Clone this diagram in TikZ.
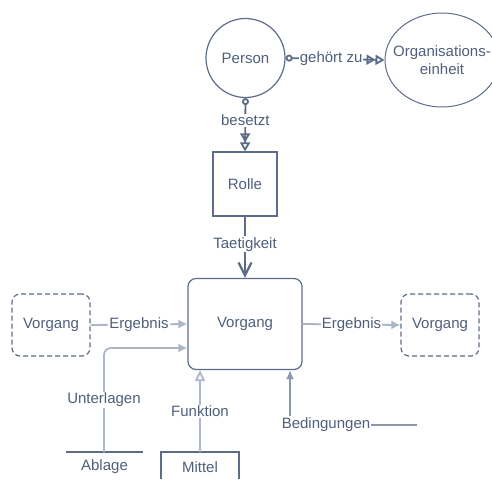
\documentclass[tikz,border=0pt]{standalone}
\usepackage{fontspec}
\setmainfont{Liberation Sans}
\usetikzlibrary{arrows.meta,shapes.geometric}
\definecolor{darkc}{HTML}{5D6D88}
\definecolor{textc}{HTML}{4F5F7C}
\definecolor{lightc}{HTML}{ABB6C6}
\definecolor{midc}{HTML}{8B98AD}
\tikzset{
  txt/.style={text=textc, font=\fontsize{15}{18}\selectfont, inner sep=1pt},
  lbl/.style={txt, fill=white},
  dk/.style={draw=darkc, line width=1.2pt},
  rel/.style={draw=darkc, line width=1.8pt},
  lt/.style={draw=lightc, line width=1.8pt},
  md/.style={draw=midc, line width=1.8pt},
  dashbox/.style={txt, dk, dash pattern=on 5pt off 3pt, rounded corners=8pt, minimum width=78pt, minimum height=62pt},
  relarrow/.style={{Circle[open,length=7pt,width=7pt]}-{Triangle[open,length=9pt,width=10pt]Triangle[open,length=9pt,width=10pt]}},
}
\begin{document}
\begin{tikzpicture}[x=1pt,y=-1pt]
\useasboundingbox (0,0) rectangle (492,479);
% nodes
\node[txt, dk, circle, minimum size=79pt] (person) at (245.5,58) {Person};
\node[draw=darkc, line width=1pt, ellipse, inner sep=0pt, minimum width=114pt, minimum height=94pt] (org) at (442,60) {};
\node[txt, align=center] (orgtext) at (org.center) {Organisations-\\einheit};
\node[txt, dk, minimum width=64pt, minimum height=64pt] (rolle) at (245,184) {Rolle};
\node[txt, dk, rounded corners=8pt, minimum width=114pt, minimum height=91pt] (vorgang) at (245,324) {Vorgang};
\node[dashbox] (vl) at (51,325) {Vorgang};
\node[dashbox] (vr) at (440,325) {Vorgang};
\node[txt] (ablage) at (104.5,467) {Ablage};
\node[txt] (mittel) at (200,467) {Mittel};
\node[txt] (bed) at (326,425) {Bedingungen};
\coordinate (ab) at (104,452);
\coordinate (mt) at (200,452);
\coordinate (bedend) at (417,425);
\coordinate (bedx) at (290,416);
% Ablage and Mittel outlines
\draw[dk] (66,452) -- (143,452);
\draw[dk] (161,479) |- (239,452) -- (239,479);
% connectors
\draw[rel, relarrow] (person.east) -- node[lbl, pos=0.46] {gehört zu} (org.west);
\draw[rel, relarrow] (person.south) -- node[lbl, pos=0.42] {besetzt} (rolle.north);
\draw[draw=darkc, line width=2.2pt, -{Straight Barb[length=13pt,width=13pt,line width=2.2pt]}]
  (rolle.south) -- node[lbl, pos=0.45] {Taetigkeit} (vorgang.north);
\draw[lt, -{Latex[length=9pt,width=9pt]}] (vl.east) -- node[lbl] {Ergebnis} (vorgang.west);
\draw[lt, -{Latex[length=9pt,width=9pt]}] (vorgang.east) -- node[lbl] {Ergebnis} (vr.west);
\draw[lt, rounded corners=7pt, -{Latex[length=9pt,width=9pt]}] (ab) -- node[lbl, pos=0.5] {Unterlagen} (104,348) -- ([yshift=-24pt]vorgang.west);
\draw[lt, -{Triangle[open,length=11pt,width=10pt]}] (mt) -- node[lbl] {Funktion} (mt |- vorgang.south);
\draw[md] (bedend) -- (bed.east);
\draw[md, -{Latex[length=9pt,width=8pt]}] (bedx) -- (bedx |- vorgang.south);
\end{tikzpicture}
\end{document}
